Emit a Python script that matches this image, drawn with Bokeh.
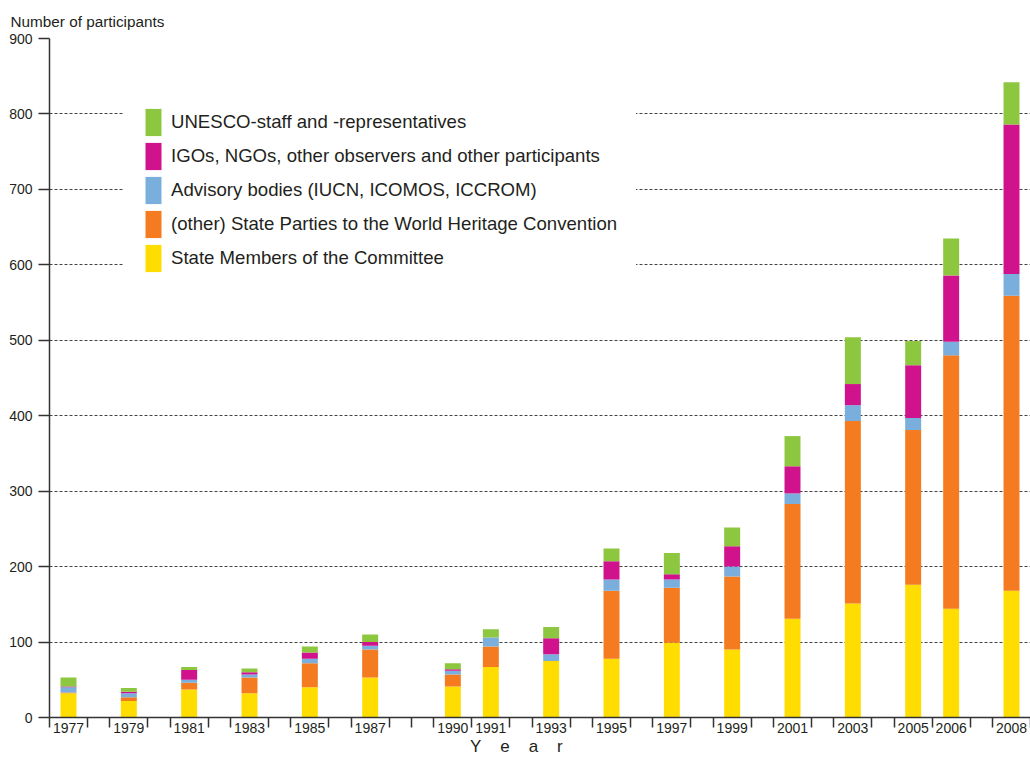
from bokeh.plotting import figure
from bokeh.models import ColumnDataSource, Range1d, FixedTicker, Legend, LegendItem
from bokeh.embed import file_html
from bokeh.resources import INLINE

# ---- data ----
years = ["1977", "1979", "1981", "1983", "1985", "1987", "1990", "1991", "1993",
         "1995", "1997", "1999", "2001", "2003", "2005", "2006", "2008"]
state_members = [32, 22, 37, 32, 40, 53, 41, 67, 75, 78, 99, 90, 131, 151, 176, 144, 168]
other_parties = [1, 5, 9, 21, 32, 37, 16, 27, 0, 90, 73, 97, 152, 242, 205, 336, 391]
advisory = [7, 5, 4, 4, 6, 5, 5, 12, 9, 15, 11, 13, 14, 21, 16, 18, 29]
igos = [1, 2, 13, 3, 8, 5, 2, 0, 21, 24, 7, 27, 36, 28, 70, 88, 198]
unesco = [12, 5, 4, 5, 8, 10, 8, 11, 15, 17, 28, 25, 40, 62, 32, 49, 56]

series_names = ["State Members of the Committee",
                "(other) State Parties to the World Heritage Convention",
                "Advisory bodies (IUCN, ICOMOS, ICCROM)",
                "IGOs, NGOs, other observers and other participants",
                "UNESCO-staff and -representatives"]
colors = ["#FFDD00", "#F47B20", "#7AAEDC", "#D0138C", "#8DC63F"]
y_ticks = list(range(0, 901, 100))

# ---- slot layout: every calendar year gets a slot; years without a session are narrower ----
DATA_SLOT, GAP_SLOT = 34, 20
year_ints = [int(y) for y in years]
boundaries = [0]
centers = []
for yr in range(year_ints[0], year_ints[-1] + 1):
    w = DATA_SLOT if yr in year_ints else GAP_SLOT
    if yr in year_ints:
        centers.append(boundaries[-1] + w // 2)
    boundaries.append(boundaries[-1] + w)
total = boundaries[-1]

keys = ["sm", "op", "ad", "ig", "un"]
source = ColumnDataSource(dict(x=centers, sm=state_members, op=other_parties,
                               ad=advisory, ig=igos, un=unesco))

TXT = "#231F20"
p = figure(width=1030, height=758, x_range=Range1d(0, total), y_range=Range1d(0, 900),
           output_backend="svg", toolbar_location=None,
           min_border_left=49, min_border_right=0, min_border_top=38, min_border_bottom=40)
p.outline_line_color = None
p.background_fill_color = "white"

renderers = p.vbar_stack(keys, x="x", width=14.3, fill_color=colors, line_color=None,
                         source=source)

# title
p.title.text = "Number of participants"
p.title.text_font = "Liberation Sans"
p.title.text_font_size = "15.3px"
p.title.text_font_style = "normal"
p.title.text_color = TXT
p.title.align = "left"
p.title.offset = -39
p.title.standoff = 17

# grid
p.xgrid.visible = False
p.ygrid.ticker = FixedTicker(ticks=y_ticks)
p.ygrid.grid_line_color = "#444444"
p.ygrid.grid_line_dash = "3 2"
p.ygrid.grid_line_width = 1

# y axis
ya = p.yaxis[0]
ya.ticker = FixedTicker(ticks=y_ticks)
ya.axis_line_color = "#333333"
ya.axis_line_width = 1.5
ya.major_tick_line_color = "#333333"
ya.major_tick_line_width = 1.5
ya.major_tick_out = 11
ya.major_tick_in = 0
ya.minor_tick_line_color = None
ya.major_label_standoff = 6
ya.major_label_text_font = "Liberation Sans"
ya.major_label_text_font_size = "14px"
ya.major_label_text_color = TXT

# x axis
xa = p.xaxis[0]
xa.ticker = FixedTicker(ticks=centers, minor_ticks=boundaries)
xa.major_label_overrides = {c: y for c, y in zip(centers, years)}
xa.axis_line_color = "#333333"
xa.axis_line_width = 1.5
xa.major_tick_line_color = None
xa.major_tick_out = 0
xa.major_tick_in = 0
xa.minor_tick_line_color = "#333333"
xa.minor_tick_line_width = 1.5
xa.minor_tick_out = 10
xa.minor_tick_in = 0
xa.major_label_standoff = -5
xa.major_label_text_font = "Liberation Sans"
xa.major_label_text_font_size = "14px"
xa.major_label_text_color = TXT
xa.axis_label = "Y\u00a0\u00a0\u00a0\u00a0e\u00a0\u00a0\u00a0\u00a0a\u00a0\u00a0\u00a0\u00a0r" + "\u00a0" * 10
xa.axis_label_text_font = "Liberation Sans"
xa.axis_label_text_font_size = "17px"
xa.axis_label_text_font_style = "normal"
xa.axis_label_text_color = TXT
xa.axis_label_standoff = 1

# legend (top entry = top of stack)
items = [LegendItem(label=name, renderers=[r]) for name, r in zip(series_names, renderers)][::-1]
legend = Legend(items=items, location=(75, 423), orientation="vertical")
legend.glyph_width = 20
legend.glyph_height = 34
legend.label_height = 34
legend.spacing = 0
legend.label_standoff = 8
legend.padding = 18
legend.margin = 0
legend.border_line_color = "white"
legend.border_line_width = 1
legend.background_fill_color = "white"
legend.background_fill_alpha = 1.0
legend.label_text_font = "Liberation Sans"
legend.label_text_font_size = "18.6px"
legend.label_text_color = TXT
p.add_layout(legend)

open("out.html", "w").write(file_html(p, INLINE))
